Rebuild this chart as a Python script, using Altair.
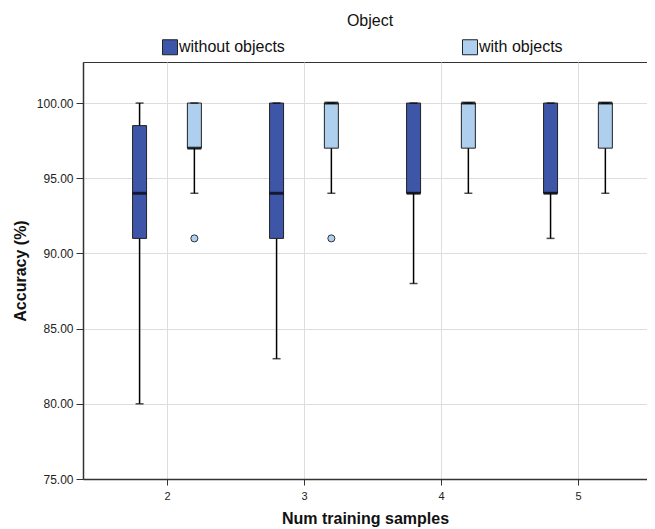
import altair as alt
import pandas as pd

samples = [2, 3, 4, 5]
groups = ["without objects", "with objects"]
colors = ["#3d56a8", "#aed0ee"]

# without objects
wo_min = [80, 83, 88, 91]
wo_q1 = [91, 91, 94, 94]
wo_med = [94, 94, 94, 94]
wo_q3 = [98.5, 100, 100, 100]
wo_max = [100, 100, 100, 100]

# with objects
w_min = [94, 94, 94, 94]
w_q1 = [97, 97, 97, 97]
w_med = [97, 100, 100, 100]
w_q3 = [100, 100, 100, 100]
w_max = [100, 100, 100, 100]

# outliers
out_sample = [2, 3]
out_group = ["with objects", "with objects"]
out_value = [91, 91]

offset = {"without objects": -0.2, "with objects": 0.2}

rows = []
for i, s in enumerate(samples):
    rows.append(dict(sample=s, group=groups[0], pos=s + offset[groups[0]],
                     mn=wo_min[i], q1=wo_q1[i], med=wo_med[i], q3=wo_q3[i], mx=wo_max[i]))
    rows.append(dict(sample=s, group=groups[1], pos=s + offset[groups[1]],
                     mn=w_min[i], q1=w_q1[i], med=w_med[i], q3=w_q3[i], mx=w_max[i]))
df = pd.DataFrame(rows)
dfo = pd.DataFrame(dict(sample=out_sample, group=out_group, value=out_value))
dfo["pos"] = dfo["sample"] + dfo["group"].map(offset)

xscale = alt.Scale(domain=[1.387, 5.504], nice=False, zero=False, padding=0)
yscale = alt.Scale(domain=[75, 102.73], nice=False, zero=False, padding=0)
xaxis = alt.Axis(values=samples, format="d", title="Num training samples",
                 tickSize=6, labelPadding=5, titlePadding=9, labelFontSize=11)
yaxis = alt.Axis(values=[75, 80, 85, 90, 95, 100], format=".2f", title="Accuracy (%)",
                 tickSize=7, labelPadding=3, titlePadding=8, labelFontSize=12)
fill_scale = alt.Scale(domain=groups, range=colors)

base = alt.Chart(df).encode(x=alt.X("pos:Q", scale=xscale, axis=xaxis))

whisker = base.mark_rule(color="black", strokeWidth=1.5).encode(
    y=alt.Y("mn:Q", scale=yscale, axis=yaxis), y2="mx:Q")
box = base.mark_bar(size=14, stroke="#222222", strokeWidth=1).encode(
    y="q1:Q", y2="q3:Q",
    fill=alt.Fill("group:N", scale=fill_scale,
                  legend=alt.Legend(title=None, orient="none", legendX=79, legendY=-23,
                                    direction="horizontal", symbolType="square",
                                    symbolSize=225, symbolStrokeColor="#222222",
                                    symbolStrokeWidth=1, labelFontSize=16,
                                    labelColor="#111111",
                                    columnPadding=175, labelOffset=1)))
median = base.mark_tick(orient="horizontal", size=14, thickness=3, color="black").encode(y="med:Q")
cap_lo = base.mark_tick(orient="horizontal", size=8, thickness=1.5, color="black").encode(y="mn:Q")
cap_hi = base.mark_tick(orient="horizontal", size=8, thickness=1.5, color="black").encode(y="mx:Q")
outliers = alt.Chart(dfo).mark_point(filled=True, shape="circle", size=50,
                                     stroke="#333333", strokeWidth=1, opacity=1).encode(
    x=alt.X("pos:Q", scale=xscale),
    y=alt.Y("value:Q", scale=yscale),
    fill=alt.Fill("group:N", scale=fill_scale, legend=None))

chart = alt.layer(whisker, box, median, cap_lo, cap_hi, outliers).properties(
    width=564, height=417,
    title=alt.TitleParams("Object", fontSize=16, fontWeight="normal", color="#111111",
                          anchor="middle", frame="group", dx=5, offset=10),
    padding={"left": 75, "top": 54, "right": 0, "bottom": 50},
    autosize=alt.AutoSizeParams(type="none"),
).configure(font="Liberation Sans").configure_view(
    stroke="#333333", strokeWidth=1
).configure_axis(
    labelColor="#222222", titleFontSize=16, titleFontWeight="bold",
    titleColor="#111111", gridColor="#dddddd", domainColor="#333333", tickColor="#333333",
    domainWidth=1.5
)

chart.save("out.html", embed_options={"renderer": "svg", "actions": False})
